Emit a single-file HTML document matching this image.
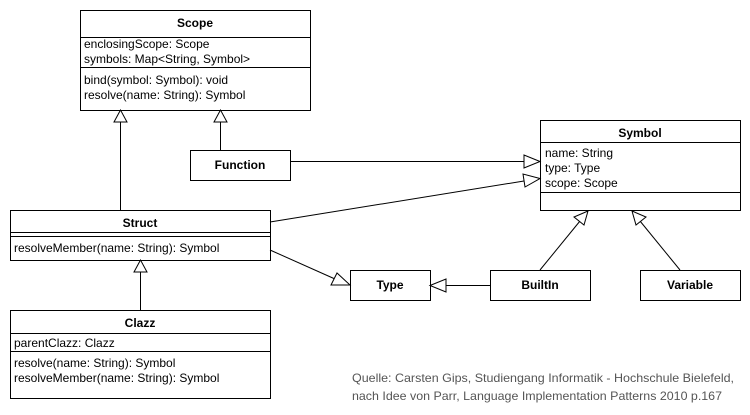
<!DOCTYPE html>
<html><head><meta charset="utf-8"><style>
html,body{margin:0;padding:0;background:#fff;}
svg text{font-family:"Liberation Sans",Arial,sans-serif;font-size:12px;fill:#000;}
.b{font-weight:bold;}
.c{fill:#555;font-size:12px;}
</style></head><body>
<svg width="750" height="410" viewBox="0 0 750 410" xmlns="http://www.w3.org/2000/svg">
<g fill="#fff" stroke="#000" stroke-width="1">
<rect x="80.5" y="10.5" width="230" height="100"/>
<line x1="80" y1="37.5" x2="311" y2="37.5"/>
<line x1="80" y1="67.5" x2="311" y2="67.5"/>
<rect x="190.5" y="150.5" width="100" height="30"/>
<rect x="10.5" y="210.5" width="260" height="50"/>
<line x1="10" y1="232.5" x2="271" y2="232.5"/>
<line x1="10" y1="236.5" x2="271" y2="236.5"/>
<rect x="10.5" y="310.5" width="260" height="88"/>
<line x1="10" y1="333.5" x2="271" y2="333.5"/>
<line x1="10" y1="351.5" x2="271" y2="351.5"/>
<rect x="540.5" y="120.5" width="200" height="90"/>
<line x1="540" y1="142.5" x2="741" y2="142.5"/>
<line x1="540" y1="192.5" x2="741" y2="192.5"/>
<rect x="350.5" y="270.5" width="80" height="30"/>
<rect x="490.5" y="270.5" width="100" height="30"/>
<rect x="640.5" y="270.5" width="100" height="30"/>
</g>
<g stroke="#000" stroke-width="1" fill="none">
<line x1="120.5" y1="210" x2="120.5" y2="122"/>
<line x1="220.5" y1="150" x2="220.5" y2="122"/>
<line x1="290" y1="161.5" x2="524" y2="161.5"/>
<line x1="270" y1="222" x2="524" y2="181"/>
<line x1="140.5" y1="310" x2="140.5" y2="272"/>
<line x1="270" y1="250" x2="335" y2="279"/>
<line x1="490" y1="285.5" x2="446" y2="285.5"/>
<line x1="540" y1="270" x2="580" y2="221"/>
<line x1="680" y1="270" x2="640" y2="221"/>
</g>
<g fill="#fff" stroke="#000" stroke-width="1">
<polygon points="120.5,110 114,122 127,122"/>
<polygon points="220.5,110 214,122 227,122"/>
<polygon points="540,161.5 524,155 524,168"/>
<polygon points="540,178.5 523,174 525,187"/>
<polygon points="140.5,260 134,272 147,272"/>
<polygon points="350,285 331,285 337,273"/>
<polygon points="430,285.5 446,279 446,292"/>
<polygon points="588,211 574,217 584,225"/>
<polygon points="632,211 646,217 636,225"/>
</g>
<text x="195" y="27" text-anchor="middle" class="b">Scope</text>
<text x="84" y="48">enclosingScope: Scope</text>
<text x="84" y="63">symbols: Map&lt;String, Symbol&gt;</text>
<text x="84" y="84">bind(symbol: Symbol): void</text>
<text x="84" y="99">resolve(name: String): Symbol</text>
<text x="240" y="169" text-anchor="middle" class="b">Function</text>
<text x="140" y="227" text-anchor="middle" class="b">Struct</text>
<text x="14" y="252">resolveMember(name: String): Symbol</text>
<text x="140" y="327" text-anchor="middle" class="b">Clazz</text>
<text x="14" y="347">parentClazz: Clazz</text>
<text x="14" y="367">resolve(name: String): Symbol</text>
<text x="14" y="382">resolveMember(name: String): Symbol</text>
<text x="640" y="137" text-anchor="middle" class="b">Symbol</text>
<text x="545" y="157">name: String</text>
<text x="545" y="172">type: Type</text>
<text x="545" y="187">scope: Scope</text>
<text x="390" y="289" text-anchor="middle" class="b">Type</text>
<text x="540" y="289" text-anchor="middle" class="b">BuiltIn</text>
<text x="690" y="289" text-anchor="middle" class="b">Variable</text>
<text x="352" y="382" class="c" textLength="382" lengthAdjust="spacingAndGlyphs">Quelle: Carsten Gips, Studiengang Informatik - Hochschule Bielefeld,</text>
<text x="352" y="400" class="c" textLength="370" lengthAdjust="spacingAndGlyphs">nach Idee von Parr, Language Implementation Patterns 2010 p.167</text>
</svg>
</body></html>
